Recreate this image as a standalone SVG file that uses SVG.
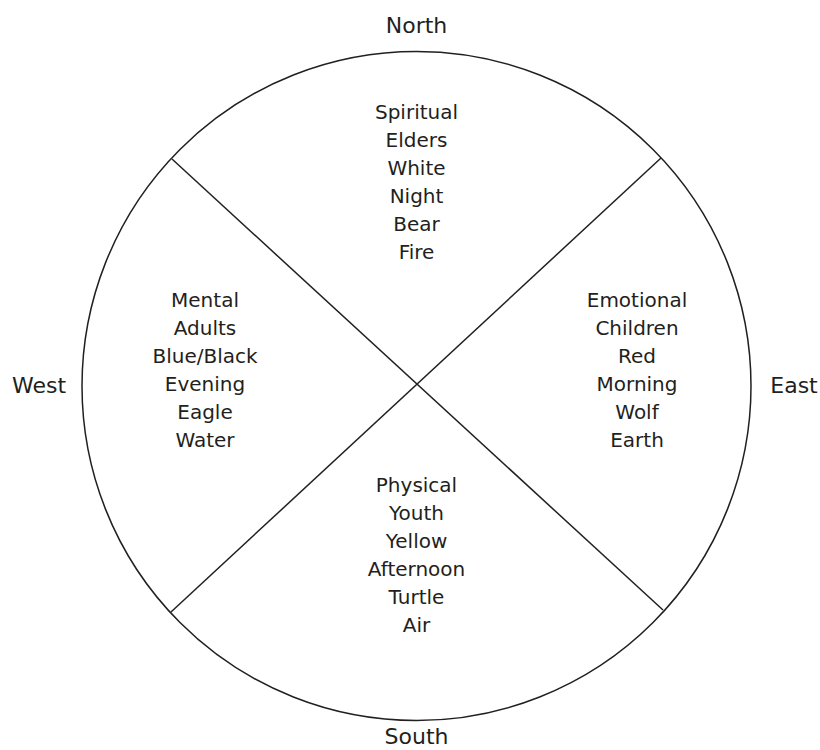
<svg xmlns="http://www.w3.org/2000/svg" width="820" height="750" viewBox="0 0 820 750">
<style>
.t{font-family:"DejaVu Sans","Liberation Sans",sans-serif;font-size:20px;fill:#231f20;text-anchor:middle}
.d{font-family:"DejaVu Sans","Liberation Sans",sans-serif;font-size:22px;fill:#231f20;text-anchor:middle}
.ln{stroke:#231f20;stroke-width:1.5;fill:none}
</style>
<rect width="820" height="750" fill="#fff"/>
<g id="wheel">
<circle class="ln" cx="416.5" cy="386" r="334.5"/>
</g>
<g id="connectors">
<line class="ln" x1="172" y1="159" x2="663" y2="610"/>
<line class="ln" x1="171" y1="612" x2="661" y2="158"/>
</g>
<g id="north">
<text class="d" x="416.5" y="33">North</text>
<text class="t" x="416.5" y="119">Spiritual</text>
<text class="t" x="416.5" y="147">Elders</text>
<text class="t" x="416.5" y="175">White</text>
<text class="t" x="416.5" y="203">Night</text>
<text class="t" x="416.5" y="231">Bear</text>
<text class="t" x="416.5" y="259">Fire</text>
</g>
<g id="east">
<text class="d" x="794" y="393">East</text>
<text class="t" x="637" y="307">Emotional</text>
<text class="t" x="637" y="335">Children</text>
<text class="t" x="637" y="363">Red</text>
<text class="t" x="637" y="391">Morning</text>
<text class="t" x="637" y="419">Wolf</text>
<text class="t" x="637" y="447">Earth</text>
</g>
<g id="west">
<text class="d" x="39" y="393">West</text>
<text class="t" x="205" y="307">Mental</text>
<text class="t" x="205" y="335">Adults</text>
<text class="t" x="205" y="363">Blue/Black</text>
<text class="t" x="205" y="391">Evening</text>
<text class="t" x="205" y="419">Eagle</text>
<text class="t" x="205" y="447">Water</text>
</g>
<g id="south">
<text class="d" x="416.5" y="744">South</text>
<text class="t" x="416.5" y="492">Physical</text>
<text class="t" x="416.5" y="520">Youth</text>
<text class="t" x="416.5" y="548">Yellow</text>
<text class="t" x="416.5" y="576">Afternoon</text>
<text class="t" x="416.5" y="604">Turtle</text>
<text class="t" x="416.5" y="632">Air</text>
</g>
</svg>
